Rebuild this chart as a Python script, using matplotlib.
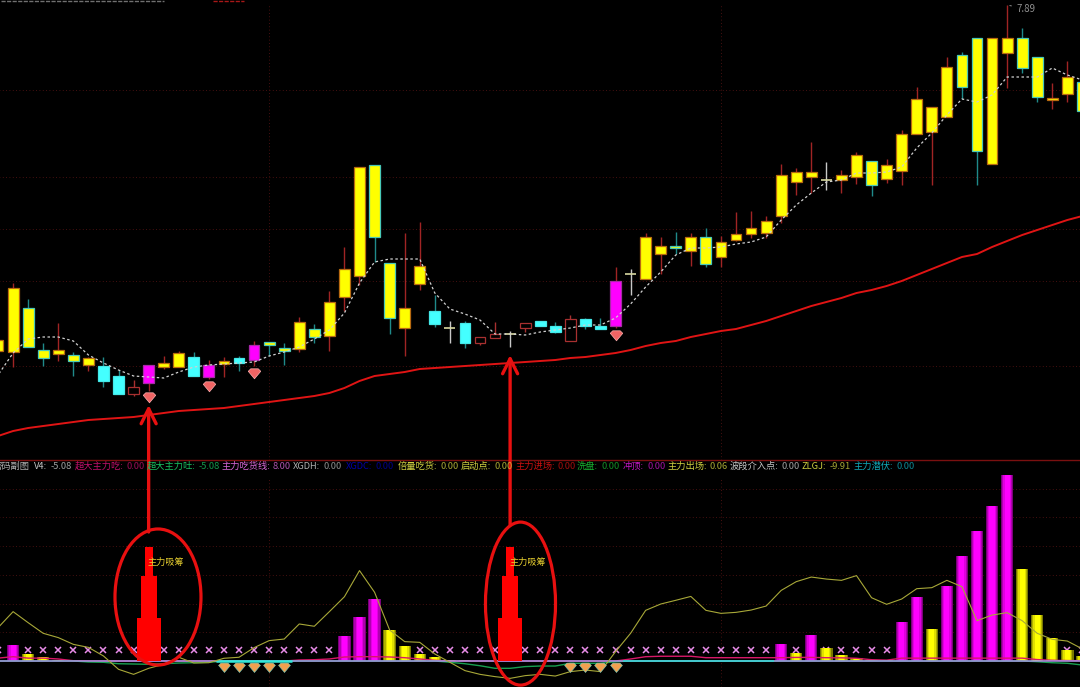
import matplotlib
matplotlib.use("Agg")
import matplotlib.pyplot as plt
from matplotlib.patches import Ellipse

plt.rcParams['font.family'] = ['Noto Sans CJK SC', 'DejaVu Sans']

# --- upper pane: candles ---
body_top = [4.54, 5.06, 4.86, 4.44, 4.44, 4.39, 4.36, 4.28, 4.18, 4.07, 4.29, 4.31, 4.41, 4.37, 4.29, 4.33, 4.36, 4.49,
            4.52, 4.46, 4.72, 4.65, 4.92, 5.25, 6.27, 6.29, 5.31, 4.86, 5.28, 4.83, 4.66, 4.71, 4.57, 4.60, 4.60, 4.71,
            4.73, 4.68, 4.75, 4.75, 4.68, 5.13, 5.20, 5.57, 5.48, 5.48, 5.57, 5.57, 5.52, 5.60, 5.66, 5.73, 6.19, 6.22,
            6.22, 6.14, 6.19, 6.39, 6.33, 6.29, 6.60, 6.95, 6.87, 7.27, 7.39, 7.56, 7.56, 7.56, 7.56, 7.37, 6.96, 7.17, 7.12]
body_bot = [4.43, 4.42, 4.47, 4.36, 4.40, 4.33, 4.29, 4.13, 4.00, 4.00, 4.11, 4.27, 4.27, 4.18, 4.17, 4.30, 4.31, 4.34,
            4.49, 4.43, 4.45, 4.57, 4.58, 4.97, 5.18, 5.57, 4.76, 4.66, 5.10, 4.70, 4.66, 4.51, 4.51, 4.56, 4.60, 4.66,
            4.68, 4.62, 4.53, 4.68, 4.65, 4.68, 5.20, 5.15, 5.40, 5.46, 5.43, 5.30, 5.37, 5.54, 5.60, 5.61, 5.78, 6.12,
            6.17, 6.14, 6.14, 6.17, 6.09, 6.15, 6.23, 6.60, 6.62, 6.77, 7.07, 6.43, 6.30, 7.41, 7.26, 6.97, 6.94, 7.00, 6.83]
high = [4.54, 5.11, 4.95, 4.51, 4.71, 4.42, 4.37, 4.37, 4.24, 4.14, 4.29, 4.38, 4.43, 4.42, 4.34, 4.37, 4.38, 4.53,
        4.52, 4.51, 4.77, 4.70, 5.03, 5.47, 6.27, 6.29, 5.31, 5.61, 5.72, 4.99, 4.73, 4.73, 4.57, 4.72, 4.63, 4.71,
        4.73, 4.72, 4.79, 4.76, 4.76, 5.27, 5.25, 5.61, 5.57, 5.62, 5.61, 5.66, 5.58, 5.82, 5.83, 5.78, 6.30, 6.26,
        6.52, 6.32, 6.24, 6.42, 6.33, 6.35, 6.64, 7.07, 6.87, 7.37, 7.42, 7.56, 7.56, 7.89, 7.66, 7.37, 7.11, 7.33, 7.12]
low = [4.43, 4.27, 4.47, 4.28, 4.33, 4.18, 4.23, 4.07, 4.00, 3.98, 4.03, 4.25, 4.27, 4.18, 4.15, 4.17, 4.23, 4.28,
       4.38, 4.29, 4.42, 4.51, 4.43, 4.83, 5.09, 5.32, 4.60, 4.38, 5.04, 4.67, 4.51, 4.46, 4.49, 4.56, 4.47, 4.62,
       4.68, 4.61, 4.53, 4.65, 4.65, 4.66, 4.99, 5.15, 5.20, 5.40, 5.28, 5.27, 5.27, 5.53, 5.56, 5.56, 5.71, 5.99,
       6.01, 6.04, 6.01, 6.10, 5.98, 6.11, 6.09, 6.60, 6.09, 6.77, 6.95, 6.09, 6.30, 7.06, 7.21, 6.92, 6.85, 6.92, 6.83]
kinds = ['up', 'up', 'down', 'down', 'up', 'down', 'up', 'cyan', 'cyan', 'hollow', 'mag', 'up', 'up', 'cyan', 'mag', 'up',
         'cyan', 'mag', 'down', 'down', 'up', 'down', 'up', 'up', 'up', 'down', 'down', 'up', 'up', 'cyan', 'doji', 'cyan',
         'hollow', 'hollow', 'doji', 'hollow', 'cyan', 'cyan', 'hollow', 'cyan', 'cyan', 'mag', 'doji', 'up', 'up', 'down',
         'up', 'down', 'up', 'up', 'up', 'up', 'up', 'up', 'up', 'doji', 'up', 'up', 'down', 'up', 'up', 'up', 'up', 'up',
         'down', 'down', 'up', 'up', 'down', 'down', 'up', 'up', 'down']
ma_short = [4.19, 4.41, 4.55, 4.57, 4.57, 4.53, 4.39, 4.31, 4.24, 4.18, 4.17, 4.16, 4.22, 4.27, 4.29, 4.30, 4.31, 4.32,
            4.38, 4.42, 4.47, 4.55, 4.64, 4.81, 5.11, 5.32, 5.35, 5.35, 5.35, 5.01, 4.85, 4.80, 4.74, 4.60, 4.60, 4.59,
            4.62, 4.64, 4.66, 4.69, 4.69, 4.76, 4.90, 5.07, 5.22, 5.39, 5.46, 5.46, 5.47, 5.50, 5.52, 5.57, 5.74, 5.89,
            6.01, 6.12, 6.14, 6.21, 6.21, 6.22, 6.27, 6.46, 6.61, 6.79, 6.95, 6.92, 6.99, 7.17, 7.17, 7.17, 7.26, 7.19, 7.14]
ma_long = [3.58, 3.63, 3.66, 3.68, 3.70, 3.72, 3.74, 3.75, 3.76, 3.77, 3.79, 3.81, 3.83, 3.84, 3.85, 3.86, 3.88, 3.90,
           3.92, 3.94, 3.96, 3.98, 4.01, 4.06, 4.13, 4.18, 4.20, 4.22, 4.25, 4.26, 4.27, 4.28, 4.29, 4.30, 4.31, 4.32,
           4.33, 4.34, 4.36, 4.37, 4.39, 4.41, 4.44, 4.48, 4.51, 4.53, 4.57, 4.60, 4.63, 4.65, 4.69, 4.73, 4.78, 4.83,
           4.88, 4.92, 4.96, 5.01, 5.04, 5.08, 5.13, 5.19, 5.25, 5.31, 5.37, 5.40, 5.47, 5.53, 5.59, 5.64, 5.69, 5.74, 5.78]
gem_idx = [10, 14, 17, 41]
gem_price = [3.97, 4.08, 4.21, 4.59]
price_grid = [7.04, 6.17, 5.65, 5.13, 4.28]
time_grid = [18, 48]
high_label = "7.89"

# --- lower pane ---
magenta_idx = [1, 23, 24, 25, 52, 54, 60, 61, 63, 64, 65, 66, 67]
magenta_val = [11.0, 17.4, 31.0, 43.0, 11.9, 18.0, 27.0, 44.6, 52.0, 73.0, 90.6, 108.0, 129.6]
yellow_idx = [2, 3, 4, 5, 26, 27, 28, 29, 30, 31, 53, 55, 56, 57, 58, 59, 62, 68, 69, 70, 71, 72]
yellow_val = [5.0, 2.8, 0.9, 0.4, 21.6, 10.7, 5.0, 2.8, 0.9, 0.4, 5.6, 9.0, 4.2, 2.0, 0.9, 0.6, 22.3, 64.0, 32.0, 16.0, 7.7, 3.5]
stack_idx = [10, 34]
stack_levels = [79.4, 59.2, 30.0]
zlgj = [23.2, 34.4, 26.7, 19.3, 16.3, 11.6, 9.5, 3.5, -5.8, -9.3, -5.1, -2.3, 2.6, -1.4, -1.2, 1.9, 2.6, 9.3, 14.2, 15.3,
        25.8, 24.2, 34.4, 44.8, 63.0, 47.9, 21.6, 13.5, 13.0, 4.9, -0.9, -6.7, -9.3, -10.9, -12.1, -10.2, -9.3, -10.5,
        -7.4, -6.3, -7.4, 6.5, 19.3, 35.3, 39.7, 42.3, 45.0, 35.3, 33.2, 33.9, 35.5, 38.3, 49.2, 55.3, 58.5, 57.1, 56.2,
        59.5, 44.1, 39.5, 43.2, 50.4, 51.1, 56.2, 51.8, 28.1, 32.0, 33.7, 28.1, 19.3, 15.1, 13.9, 8.4]
pink_line = [2.0, 3.0, 2.0, 2.0, 1.4, 0.2, 0, 0, 0, 0, 0, 0, 0, 0, 0, 0, 0, 0, 0, 0, 0.7, 0.9, 1.4, 2.8, 3.0, 3.0, 2.8,
             2.3, 1.4, 0.5, 0, 0, 0, 0, 0, 0, 0, 0, 0, 0, 0, 0, 1.4, 3.0, 3.3, 3.3, 3.3, 2.3, 2.3, 2.3, 2.3, 2.3, 2.3,
             2.5, 2.5, 2.3, 2.2, 1.9, 0.9, 0.6, 2.0, 2.0, 2.0, 2.0, 2.0, 2.0, 2.0, 2.0, 2.0, 1.0, 0.5, 0.3, 0.2]
green_line = [0, 0, 0, 0, 0, 0, -0.7, -0.9, -1.9, -2.1, -2.3, -1.9, -1.4, -1.2, -0.9, 0, 0, 0, 0, 0, 0, 0, 0, 0, 0, 0, 0,
              0, 0, 0, -0.9, -1.9, -3.3, -5.1, -5.1, -3.9, -3.5, -3.5, -1.6, -1.6, -1.6, -0.5, 0, 0, 0, 0, 0, 0, 0, 0,
              0, 0, 0, 0, 0, 0, 0, 0, 0, 0, 0, 0, 0, 0, 0, 0, 0, 0, 0, -0.5, -1.2, -1.6, -2.8]
cyan_span = [15, 19]
cyan_span2 = [42, 51]
x_mark_val = [8.0] * 73
low_gem_idx = [15, 16, 17, 18, 19, 38, 39, 40, 41]
low_gem_val = [-4.2] * 9
low_grid = [20, 40, 60, 80, 100, 120]
stack_label = "主力吸筹"

# header row of the lower pane: name, value, colours
legend_items = [
    ("密码副图", "", "#b0b0b0"),
    ("V4:", "-5.08", "#c8c8c8"),
    ("超大主力吃:", "0.00", "#c0106a"),
    ("超大主力吐:", "-5.08", "#18c060"),
    ("主力吃货线:", "8.00", "#d868d8"),
    ("XGDH:", "0.00", "#b0b0b0"),
    ("XGDC:", "0.00", "#0000a8"),
    ("倍量吃货:", "0.00", "#d0d040"),
    ("启动点:", "0.00", "#d0d040"),
    ("主力进场:", "0.00", "#c81010"),
    ("洗盘:", "0.00", "#18b030"),
    ("冲顶:", "0.00", "#c818c8"),
    ("主力出场:", "0.06", "#d0d040"),
    ("波段介入点:", "0.00", "#c8c8c8"),
    ("ZLGJ:", "-9.91", "#d0d040"),
    ("主力潜伏:", "0.00", "#10a8b8"),
]
legend_x = [30, 34, 75, 147, 221, 293, 346, 398, 461, 515, 577, 623, 667, 730, 802, 854]

GRID = "#5e1414"
DOTTED = (0, (1, 3))
GEM = [(-1, 0.35), (-0.6, 0.75), (0.6, 0.75), (1, 0.35), (0, -0.85), (-1, 0.35)]
XMIN, XMAX = 0.13, 71.84


def draw_candles(ax):
    styles = {
        'up': ("#ffff00", "#b86a10", "#a02424"),
        'down': ("#ffff00", "#48c8b8", "#1f8a8a"),
        'cyan': ("#44ffff", "#44e8e8", "#1f8a8a"),
        'hollow': ("#000000", "#a83030", "#a83030"),
        'mag': ("#ff00ff", "#a82aa8", "#a02424"),
    }
    for i, kind in enumerate(kinds):
        if kind == 'doji':
            ax.vlines(i, low[i], high[i], color="#c8c8c8", lw=1.0, zorder=3)
            ax.hlines(body_top[i], i - 0.36, i + 0.36, color="#d8d8a0", lw=1.2, zorder=3)
            continue
        face, edge, wick = styles[kind]
        ax.vlines(i, low[i], high[i], color=wick, lw=1.0, zorder=2)
        ax.bar(i, body_top[i] - body_bot[i], bottom=body_bot[i], width=0.72, color=face,
               edgecolor=edge, linewidth=0.9, zorder=3)


def draw_top(ax):
    ax.set_facecolor("black")
    ax.set_xlim(XMIN, XMAX)
    ax.set_ylim(3.34, 7.94)
    ax.hlines(price_grid, 0, 73, color=GRID, lw=0.6, linestyle=DOTTED, zorder=1)
    ax.vlines(time_grid, 3.34, 7.89, color=GRID, lw=0.6, linestyle=DOTTED, zorder=1)

    # clipped remains of the chart title on the top edge
    ax.hlines(7.935, 0.2, 11, color="#707070", lw=1.0, linestyle=(0, (3, 1)))
    ax.hlines(7.935, 14.3, 16.3, color="#a81818", lw=1.0, linestyle=(0, (3, 1)))

    draw_candles(ax)
    x = list(range(len(kinds)))
    ax.plot(x, ma_short, color="#d0d0d0", lw=0.9, linestyle=(0, (2, 2)), zorder=4)
    ax.plot(x, ma_long, color="#e01414", lw=1.4, zorder=4)
    ax.plot(gem_idx, gem_price, linestyle="none", marker=GEM, ms=9, mfc="#f06464", mec="#ffb0b0", mew=0.5, zorder=5)

    # label of the highest price
    ax.annotate(high_label, xy=(67, 7.89), xytext=(67.65, 7.85), color="#909090", fontsize=7, va="center",
                arrowprops=dict(arrowstyle="-", color="#909090", lw=0.7))
    ax.axis("off")


def draw_bars(ax, idx, val, colours):
    widths = [0.82, 0.68, 0.52, 0.34]
    for w, c in zip(widths, colours):
        ax.bar(idx, val, width=w, color=c, linewidth=0, zorder=3)


def draw_low(ax):
    ax.set_facecolor("black")
    ax.set_xlim(XMIN, XMAX)
    ax.set_ylim(-18.12, 140.07)
    ax.hlines(low_grid, 0, 73, color=GRID, lw=0.6, linestyle=DOTTED, zorder=1)
    ax.vlines(time_grid, -18.12, 128, color=GRID, lw=0.6, linestyle=DOTTED, zorder=1)

    x = list(range(len(kinds)))
    ax.plot(x, x_mark_val, linestyle="none", marker="x", ms=4.5, mew=1.1, color="#e88ce8", zorder=2)
    draw_bars(ax, magenta_idx, magenta_val, ["#7a007a", "#b000b0", "#e000e0", "#ff00ff"])
    draw_bars(ax, yellow_idx, yellow_val, ["#787800", "#b0b000", "#e0e000", "#ffff00"])

    ax.plot(x, pink_line, color="#d81868", lw=1.0, zorder=4)
    ax.plot(x, green_line, color="#18a050", lw=1.0, zorder=4)
    ax.hlines(0, 0, 73, color="#a898e8", lw=1.1, zorder=4)
    ax.hlines(0, cyan_span[0] - 0.5, cyan_span[1] + 0.5, color="#30e8d8", lw=1.8, zorder=4)
    ax.hlines(0, cyan_span2[0] - 0.5, cyan_span2[1] + 0.5, color="#30d8d0", lw=1.1, zorder=4)
    ax.plot(x, zlgj, color="#a8a838", lw=0.8, zorder=5)

    for i in stack_idx:
        for level, w in zip(stack_levels, [0.53, 1.06, 1.6]):
            ax.bar(i, level, width=w, color="#ff0000", linewidth=0, zorder=6)
        ax.text(i - 0.05, 68.5, stack_label, color="#e8d030", fontsize=6.6, va="center", ha="left", zorder=8)

    ax.plot(low_gem_idx, low_gem_val, linestyle="none", marker=GEM, ms=8.5, mfc="#f0a050", mec="#70d0c0", mew=0.4, zorder=7)

    ax.add_patch(Ellipse((10.62, 44.6), 5.71, 94.8, fill=False, ec="#e81010", lw=2.3, zorder=8, clip_on=False))
    ax.add_patch(Ellipse((34.69, 40.0), 4.65, 113.6, fill=False, ec="#e81010", lw=2.3, zorder=8, clip_on=False))
    ax.axis("off")


def draw_header(fig):
    # text is placed in figure pixels, name first and value right after it
    renderer = fig.canvas.get_renderer()
    ypos = 1 - 466.5 / 687
    for (name, value, colour), xpos in zip(legend_items, legend_x):
        if value == "":
            fig.text(xpos / 1080, ypos, name, color=colour, fontsize=6.7, ha="right", va="center")
            continue
        t = fig.text(xpos / 1080, ypos, name, color=colour, fontsize=6.7, va="center")
        end = t.get_window_extent(renderer).x1
        fig.text((end + 3) / 1080, ypos, value, color=colour, alpha=0.8, fontsize=6.7, va="center")


def main():
    fig = plt.figure(figsize=(10.8, 6.87), dpi=100, facecolor="black")
    pane = 227 / 687
    ax_low = fig.add_axes([0, 0, 1, pane], zorder=1)
    ax_top = fig.add_axes([0, pane, 1, 1 - pane], zorder=2)
    draw_low(ax_low)
    draw_top(ax_top)
    fig.add_artist(plt.Line2D([0, 1], [pane, pane], color="#7a1010", lw=1.0))
    draw_header(fig)

    # the two big arrows run from the lower pane up to the price pane
    arrow_tip = [3.89, 4.39]
    arrow_tail = [89.9, 94.8]
    for i, tip, tail in zip(stack_idx, arrow_tip, arrow_tail):
        ax_top.annotate("", xy=(i, tip), xycoords="data", xytext=(i, tail), textcoords=ax_low.transData,
                        annotation_clip=False,
                        arrowprops=dict(arrowstyle="->,head_length=0.9,head_width=0.45", color="#e81010", lw=2.4,
                                        mutation_scale=12, shrinkA=0, shrinkB=0))

    fig.savefig("out.png", dpi=100, facecolor="black")


if __name__ == "__main__":
    main()
